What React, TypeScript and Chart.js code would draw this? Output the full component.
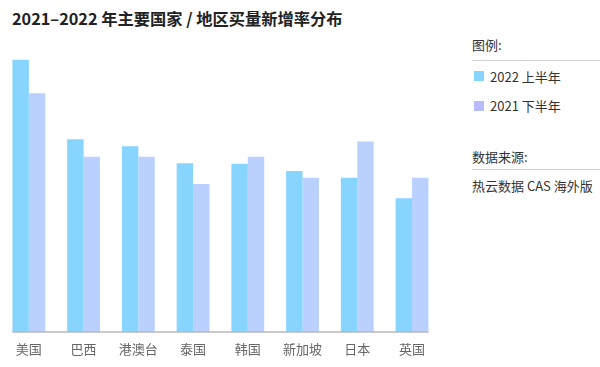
import React, { useEffect, useRef } from "react";
import { Chart, registerables } from "chart.js";

Chart.register(...registerables);

const categories = ["美国", "巴西", "港澳台", "泰国", "韩国", "新加坡", "日本", "英国"];
const series2022H1 = [93.2, 66.0, 63.6, 57.8, 57.6, 55.1, 52.8, 45.8];
const series2021H2 = [81.8, 60.0, 60.0, 50.7, 60.0, 52.8, 65.2, 52.8];
const seriesNames = ["2022 上半年", "2021 下半年"];

const FONT = '"Noto Sans CJK SC", "Noto Sans", sans-serif';
const CYAN = "#87D4FF";
const LAV_BAR = "#BAD1FF";
const LAV_LEGEND = "#BABAFF";

const baselinePlugin = {
  id: "baseline",
  afterDatasetsDraw(chart: any) {
    const m0 = chart.getDatasetMeta(0);
    const m1 = chart.getDatasetMeta(1);
    if (!m0.data.length || !m1.data.length) return;
    const first = m0.data[0] as any;
    const last = m1.data[m1.data.length - 1] as any;
    const x0 = first.x - first.width / 2;
    const x1 = last.x + last.width / 2;
    const y = chart.scales.y.getPixelForValue(0);
    const ctx = chart.ctx;
    ctx.save();
    ctx.strokeStyle = "#b8b8b8";
    ctx.lineWidth = 1.5;
    ctx.beginPath();
    ctx.moveTo(x0, y);
    ctx.lineTo(x1, y);
    ctx.stroke();
    ctx.restore();
  },
};

export default function App() {
  const ref = useRef<HTMLCanvasElement>(null);
  useEffect(() => {
    if (!ref.current) return;
    const chart = new Chart(ref.current, {
      type: "bar",
      data: {
        labels: categories,
        datasets: [
          { label: seriesNames[0], data: series2022H1, backgroundColor: CYAN },
          { label: seriesNames[1], data: series2021H2, backgroundColor: LAV_BAR },
        ],
      },
      options: {
        responsive: false,
        animation: false,
        devicePixelRatio: 1,
        layout: { padding: { left: 1.5, right: 2.6, top: 40, bottom: 1.4 } },
        datasets: { bar: { categoryPercentage: 0.6, barPercentage: 1 } },
        plugins: { legend: { display: false }, tooltip: { enabled: false }, title: { display: false } },
        scales: {
          x: {
            grid: { display: false, drawTicks: false },
            border: { display: false },
            ticks: { color: "#666", padding: 9, font: { family: FONT, size: 13 } },
          },
          y: { display: false, min: 0, max: 100 },
        },
      },
      plugins: [baselinePlugin],
    });
    return () => chart.destroy();
  }, []);

  const textStyle: React.CSSProperties = {
    position: "absolute",
    fontFamily: FONT,
    fontSize: 13,
    color: "#333",
    whiteSpace: "nowrap",
    lineHeight: "16px",
  };
  const sq = (c: string, top: number): React.CSSProperties => ({
    position: "absolute",
    left: 474,
    top,
    width: 10,
    height: 10,
    background: c,
  });

  return (
    <div style={{ position: "absolute", left: 0, top: 0, width: 600, height: 367, background: "#fff", overflow: "hidden" }}>
      <div style={{ ...textStyle, left: 12, top: 9, fontSize: 16.25, fontWeight: 700, color: "#222", lineHeight: "18px" }}>
        2021–2022 年主要国家 / 地区买量新增率分布
      </div>
      <canvas ref={ref} width={442} height={367} style={{ position: "absolute", left: 0, top: 0, width: 442, height: 367 }} />
      <div style={{ ...textStyle, left: 472, top: 37 }}>图例:</div>
      <div style={{ position: "absolute", left: 472, top: 59.5, width: 128, height: 1, background: "#cfcfcf" }} />
      <div style={sq(CYAN, 71)} />
      <div style={{ ...textStyle, left: 490, top: 69 }}>{seriesNames[0]}</div>
      <div style={sq(LAV_LEGEND, 100.5)} />
      <div style={{ ...textStyle, left: 490, top: 98 }}>{seriesNames[1]}</div>
      <div style={{ ...textStyle, left: 472, top: 149 }}>数据来源:</div>
      <div style={{ position: "absolute", left: 472, top: 169, width: 128, height: 1, background: "#cfcfcf" }} />
      <div style={{ ...textStyle, left: 472, top: 178 }}>热云数据 CAS 海外版</div>
    </div>
  );
}
